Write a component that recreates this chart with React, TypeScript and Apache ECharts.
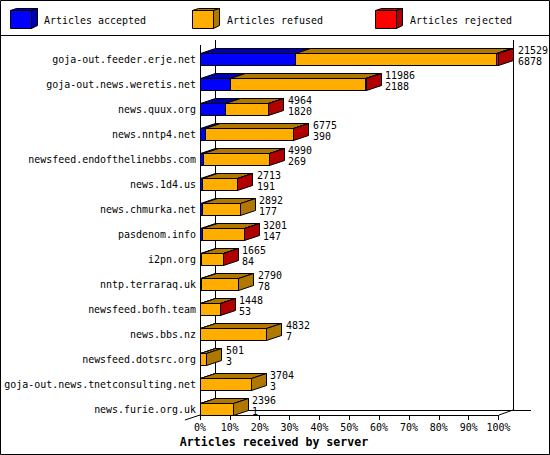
import React, { useEffect, useRef } from "react";
import * as echarts from "echarts";

const servers = [
  "goja-out.feeder.erje.net", "goja-out.news.weretis.net", "news.quux.org", "news.nntp4.net",
  "newsfeed.endofthelinebbs.com", "news.1d4.us", "news.chmurka.net", "pasdenom.info", "i2pn.org",
  "nntp.terraraq.uk", "newsfeed.bofh.team", "news.bbs.nz", "newsfeed.dotsrc.org",
  "goja-out.news.tnetconsulting.net", "news.furie.org.uk",
];
const totals = [21529, 11986, 4964, 6775, 4990, 2713, 2892, 3201, 1665, 2790, 1448, 4832, 501, 3704, 2396];
const accepted = [6878, 2188, 1820, 390, 269, 191, 177, 147, 84, 78, 53, 7, 3, 3, 1];
const refused = [14521, 9778, 3134, 6375, 4716, 2519, 2715, 3052, 1579, 2712, 1393, 4825, 498, 3701, 2395];
const rejected = [130, 20, 10, 10, 5, 3, 0, 2, 2, 0, 2, 0, 0, 0, 0];
const percentTicks = 10;
const axisTitle = "Articles received by server";

const FONT = "'DejaVu Sans Mono', monospace";
const TEXT_SIZE = 9.96;
const palette = [
  { name: "Articles accepted", front: "#0000ff", dark: "#0000b0", legendX: 11, textX: 44 },
  { name: "Articles refused", front: "#ffae00", dark: "#b07800", legendX: 193, textX: 227 },
  { name: "Articles rejected", front: "#ff0000", dark: "#b00000", legendX: 376, textX: 410 },
];
const DX = 15;
const DY = 5;
const HALF = 6;
const scaleMax = Math.max(...totals);
const pct = (v: number) => (v / scaleMax) * 100;
const layers = [accepted, refused, rejected];

const crisp = (v: number) => Math.round(v - 0.5) + 0.5;

function segmentItem(color: { front: string; dark: string }) {
  return (_p: any, api: any) => {
    const start = api.coord([api.value(0), api.value(2)]);
    const end = api.coord([api.value(1), api.value(2)]);
    const isLast = api.value(3) === 1;
    const x0 = crisp(start[0]);
    const x1 = crisp(end[0]);
    const yt = crisp(start[1] - HALF);
    const yb = crisp(start[1] + HALF);
    const stroke = { stroke: "#000", lineWidth: 1 };
    const children: any[] = [
      {
        type: "polygon",
        shape: { points: [[x0, yt], [x0 + DX, yt - DY], [x1 + DX, yt - DY], [x1, yt]] },
        style: { fill: color.dark, ...stroke },
      },
      {
        type: "polygon",
        shape: { points: [[x0, yt], [x1, yt], [x1, yb], [x0, yb]] },
        style: { fill: color.front, ...stroke },
      },
    ];
    if (isLast) {
      children.push({
        type: "polygon",
        shape: { points: [[x1, yt], [x1 + DX, yt - DY], [x1 + DX, yb - DY], [x1, yb]] },
        style: { fill: color.dark, ...stroke },
      });
    }
    return { type: "group", children };
  };
}

function segmentData(layer: number) {
  const out: number[][] = [];
  servers.forEach((_s, i) => {
    const before = layers.slice(0, layer).reduce((a, l) => a + l[i], 0);
    const value = layers[layer][i];
    if (value <= 0) return;
    const after = layers.slice(layer + 1).reduce((a, l) => a + l[i], 0);
    out.push([pct(before), pct(before + value), i, after === 0 ? 1 : 0]);
  });
  return out;
}

function line(x1: number, y1: number, x2: number, y2: number, z = 0) {
  return { type: "line", z, silent: true, shape: { x1, y1, x2, y2 }, style: { stroke: "#000", lineWidth: 1 } };
}

function legendBox(x: number, front: string, dark: string) {
  const l = x + 0.5;
  const r = x + 21.5;
  const t = 10.5;
  const b = 28.5;
  const dx = 6;
  const dy = 2;
  const style = { stroke: "#000", lineWidth: 1 };
  return [
    { type: "polygon", shape: { points: [[l, t], [l + dx, t - dy], [r + dx, t - dy], [r, t]] }, style: { fill: dark, ...style } },
    { type: "polygon", shape: { points: [[r, t], [r + dx, t - dy], [r + dx, b - dy - 1], [r, b]] }, style: { fill: dark, ...style } },
    { type: "rect", shape: { x: l, y: t, width: 21, height: 18 }, style: { fill: front, ...style } },
  ];
}

export default function App() {
  const ref = useRef<HTMLDivElement>(null);
  useEffect(() => {
    const chart = echarts.init(ref.current!, undefined, { renderer: "svg" });
    const graphics: any[] = [
      { type: "rect", z: -2, silent: true, shape: { x: 0.5, y: 0.5, width: 549, height: 454 }, style: { fill: "#fff", stroke: "#000", lineWidth: 1 } },
      line(0, 35.5, 550, 35.5, -1),
      line(215.5, 40, 215.5, 410, -1),
      line(513.5, 40, 513.5, 410, -1),
      line(215, 410.5, 531, 410.5, -1),
      line(185, 420, 215, 410, -1),
      line(499, 415, 513, 410, -1),
      line(200.5, 45, 200.5, 416, 10),
      {
        type: "text",
        x: 274,
        y: 442,
        style: { text: axisTitle, font: `bold 11.6px ${FONT}`, fill: "#000", verticalAlign: "middle", align: "center" },
      },
    ];
    palette.forEach((p) => {
      graphics.push(...legendBox(p.legendX - 1, p.front, p.dark));
      graphics.push({
        type: "text",
        x: p.textX,
        y: 20,
        style: { text: p.name, font: `${TEXT_SIZE}px ${FONT}`, fill: "#000", verticalAlign: "middle", align: "left" },
      });
    });

    chart.setOption({
      animation: false,
      backgroundColor: "transparent",
      grid: { left: 200, top: 59, width: 298.5, height: 350 },
      graphic: { elements: graphics },
      xAxis: {
        type: "value",
        min: 0,
        max: 100,
        interval: percentTicks,
        offset: 6,
        axisLine: { show: true, lineStyle: { color: "#000", width: 1 } },
        axisTick: { show: true, length: 5, lineStyle: { color: "#000", width: 1 } },
        axisLabel: { formatter: "{value}%", margin: 7, fontFamily: FONT, fontSize: TEXT_SIZE, color: "#000", hideOverlap: false },
        splitLine: { show: false },
      },
      yAxis: {
        type: "category",
        inverse: true,
        boundaryGap: false,
        data: servers,
        axisLine: { show: false },
        axisTick: { show: false },
        axisLabel: { margin: 4, fontFamily: FONT, fontSize: TEXT_SIZE, color: "#000", interval: 0 },
        splitLine: { show: false },
      },
      series: [
        ...palette.map((p, idx) => ({
          type: "custom",
          name: p.name,
          coordinateSystem: "cartesian2d",
          clip: false,
          silent: true,
          encode: { x: [0, 1], y: 2 },
          data: segmentData(idx),
          renderItem: segmentItem(p),
        })),
        {
          type: "custom",
          name: "Counts",
          coordinateSystem: "cartesian2d",
          clip: false,
          silent: true,
          z: 5,
          encode: { x: 0, y: 1 },
          data: servers.map((_s, i) => [pct(totals[i]), i]),
          renderItem: (_p: any, api: any) => {
            const i = api.value(1);
            const pos = api.coord([api.value(0), i]);
            return {
              type: "group",
              children: [totals[i], accepted[i]].map((v, k) => ({
                type: "text",
                x: Math.round(pos[0]) + DX + 4,
                y: Math.round(pos[1]) - 9 + k * 11,
                style: { text: String(v), font: `${TEXT_SIZE}px ${FONT}`, fill: "#000", verticalAlign: "middle", align: "left" },
              })),
            };
          },
        },
      ],
    });
    return () => chart.dispose();
  }, []);
  return <div ref={ref} style={{ position: "fixed", left: 0, top: 0, width: 550, height: 455, background: "#fff" }} />;
}
